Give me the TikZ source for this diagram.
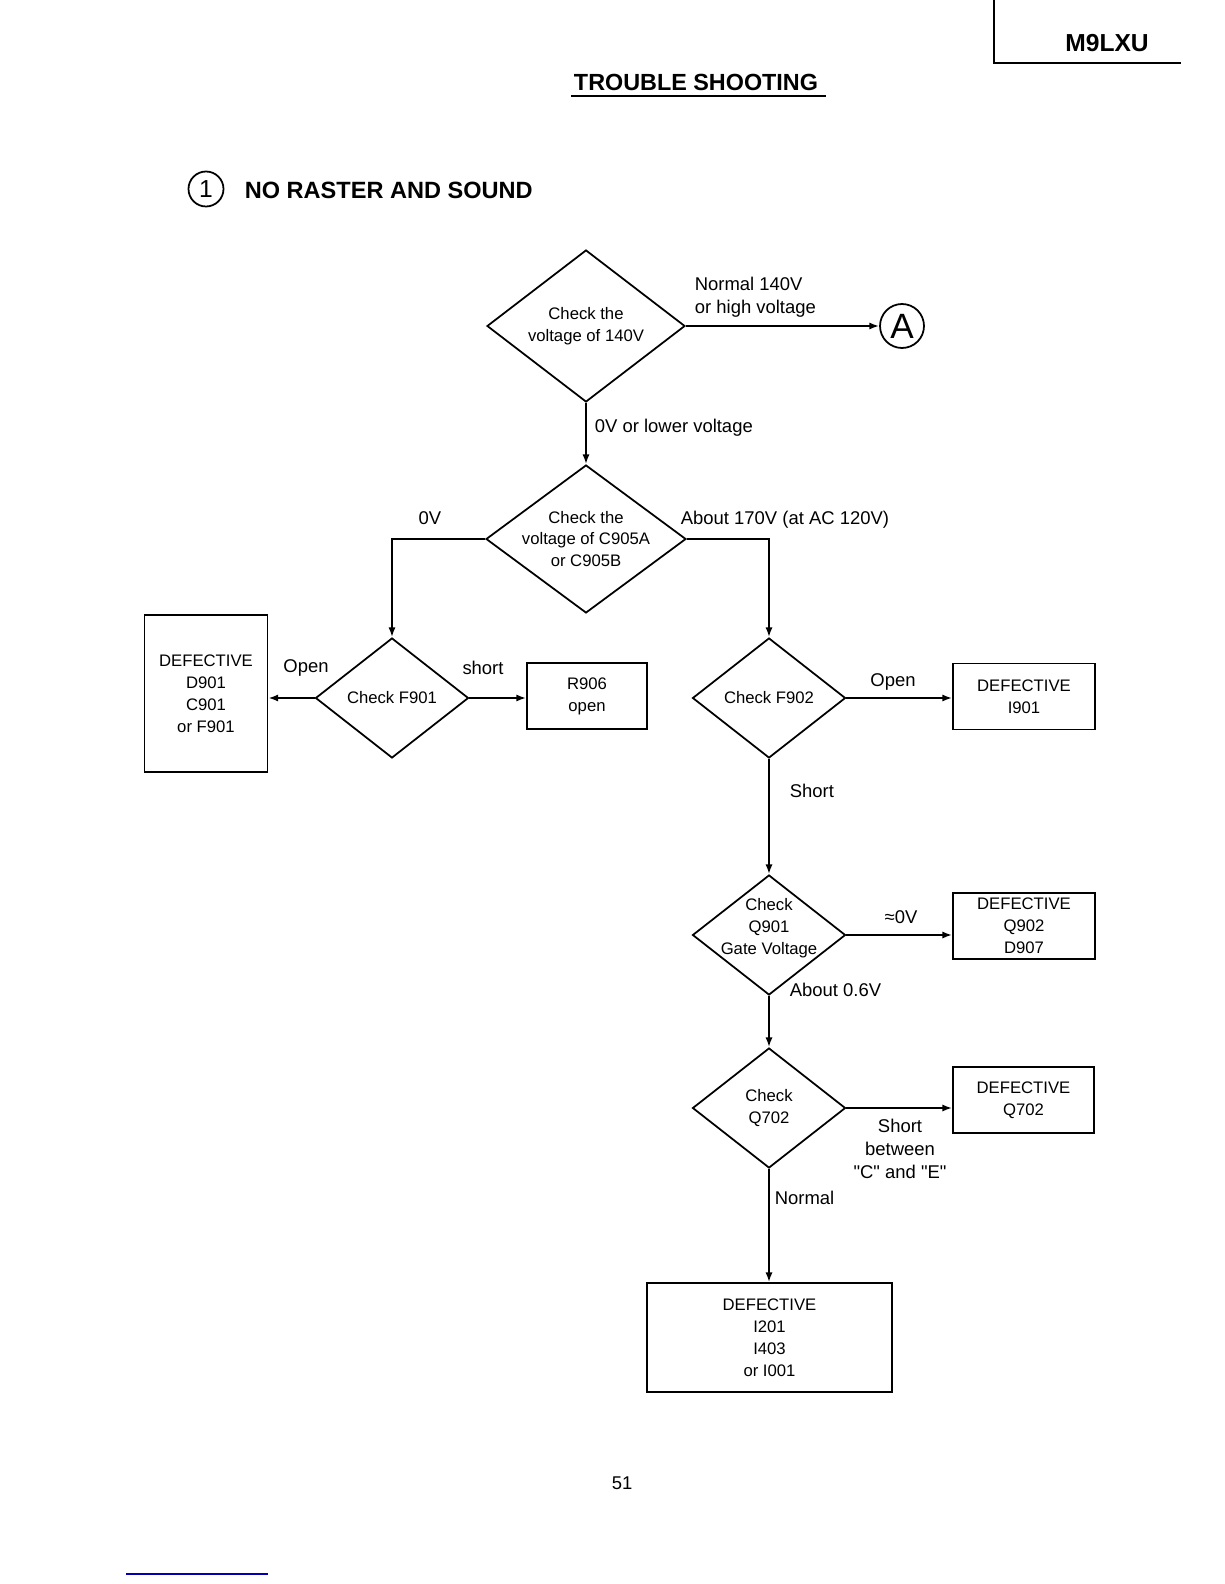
\documentclass[tikz,border=0pt]{standalone}
\usepackage{fontspec}
\setmainfont{Liberation Sans}
\usetikzlibrary{shapes.geometric,arrows.meta}

\begin{document}
\begin{tikzpicture}[x=0.02cm,y=-0.02cm,line width=1pt]
\tikzstyle{every node}=[font=\fontsize{9.5}{12.5}\selectfont,align=center,inner sep=0pt]
\tikzstyle{check}=[draw,diamond,aspect=1.3,minimum width=3.06cm,minimum height=2.4cm]
\tikzstyle{result}=[draw,rectangle,minimum width=2.84cm,minimum height=1.32cm]
\tikzstyle{lbl}=[font=\fontsize{10.5}{13}\selectfont]
\tikzstyle{go}=[-{Latex[length=5.5pt,width=4pt]}]
\useasboundingbox (0,0) rectangle (1224,1584);

% page head
\draw (994,0) -- (994,63) -- (1181,63);
\node[font=\bfseries\fontsize{14}{14}\selectfont] (model) at (1107,43) {M9LXU};
\node[font=\bfseries\fontsize{13.3}{14}\selectfont,anchor=base] (ttl) at (696,91) {TROUBLE SHOOTING};
\draw[line width=1.2pt] ([xshift=-1pt,yshift=-2.8pt]ttl.base west) -- ([xshift=4pt,yshift=-2.8pt]ttl.base east);
\node[draw,circle,minimum size=0.7cm,font=\fontsize{14}{14}\selectfont] (num) at (206,189) {1};
\node[font=\bfseries\fontsize{13.4}{14}\selectfont,anchor=west] (sect) at (244,190) {NO RASTER AND SOUND};

% checks
\node[check,minimum width=3.96cm,minimum height=3.04cm] (d140) at (586,326) {Check the\\voltage of 140V};
\node[draw,circle,minimum size=0.88cm,font=\fontsize{20}{20}\selectfont] (ca) at (902,326) {A};
\node[check,minimum width=4cm,minimum height=2.96cm,inner xsep=-5pt] (dc905) at (586,539) {Check the\\voltage of C905A\\or C905B};
\node[check] (f901) at (392,698) {Check F901};
\node[check] (f902) at (769,698) {Check F902};
\node[check,inner xsep=-10pt,inner ysep=-4pt] (q901) at (769,935) {Check\\Q901\\Gate Voltage\\[-3pt]\mbox{}};
\node[check] (q702) at (769,1108) {Check\\Q702};

% results
\node[result,minimum width=2.46cm,minimum height=3.14cm] (rd901) at (206,693.5) {DEFECTIVE\\D901\\C901\\or F901};
\node[result,minimum width=2.4cm] (rr906) at (587,696) {R906\\open};
\node[result] (ri901) at (1024,696.5) {DEFECTIVE\\I901};
\node[result] (rq902) at (1024,926) {DEFECTIVE\\Q902\\D907};
\node[result,minimum width=2.82cm] (rq702) at (1023.5,1100) {DEFECTIVE\\Q702};
\node[result,minimum width=4.9cm,minimum height=2.18cm] (ri201) at (769.5,1337.5) {DEFECTIVE\\I201\\I403\\or I001};

% flow
\draw[go] (d140.east) -- (ca.west);
\draw[go] (d140.south) -- (dc905.north);
\draw[go] (dc905.west) -| (f901.north);
\draw[go] (dc905.east) -| (f902.north);
\draw[go] (f901.west) -- (f901.west -| rd901.east);
\draw[go] (f901.east) -- (f901.east -| rr906.west);
\draw[go] (f902.east) -- (f902.east -| ri901.west);
\draw[go] (f902.south) -- (q901.north);
\draw[go] (q901.east) -- (q901.east -| rq902.west);
\draw[go] (q901.south) -- (q702.north);
\draw[go] (q702.east) -- (q702.east -| rq702.west);
\draw[go] (q702.south) -- (q702.south |- ri201.north);

% labels
\node[lbl,anchor=west,align=left] (lnorm) at (694,297) {Normal 140V\\or high voltage};
\node[lbl,anchor=west] (llow) at (594,428) {0V or lower voltage};
\node[lbl] (l0v) at (430,518) {0V};
\node[lbl,anchor=west] (l170) at (680,520) {About 170V (at AC 120V)};
\node[lbl] (lopen1) at (306,668) {Open};
\node[lbl] (lshort1) at (483,668) {short};
\node[lbl] (lopen2) at (893,682) {Open};
\node[lbl,anchor=west] (lshort2) at (789,791) {Short};
\node[lbl] (lzero) at (901,917) {≈0V};
\node[lbl,anchor=west] (l06) at (789,990) {About 0.6V};
\node[lbl] (lce) at (900,1149) {Short\\between\\\textquotedbl C\textquotedbl\ and \textquotedbl E\textquotedbl};
\node[lbl,anchor=west] (lnormal) at (774,1198) {Normal};

\node[lbl] (page) at (622,1483) {51};
\draw[blue!70!black,line width=0.6pt] (126,1574) -- (268,1574);
\end{tikzpicture}
\end{document}
